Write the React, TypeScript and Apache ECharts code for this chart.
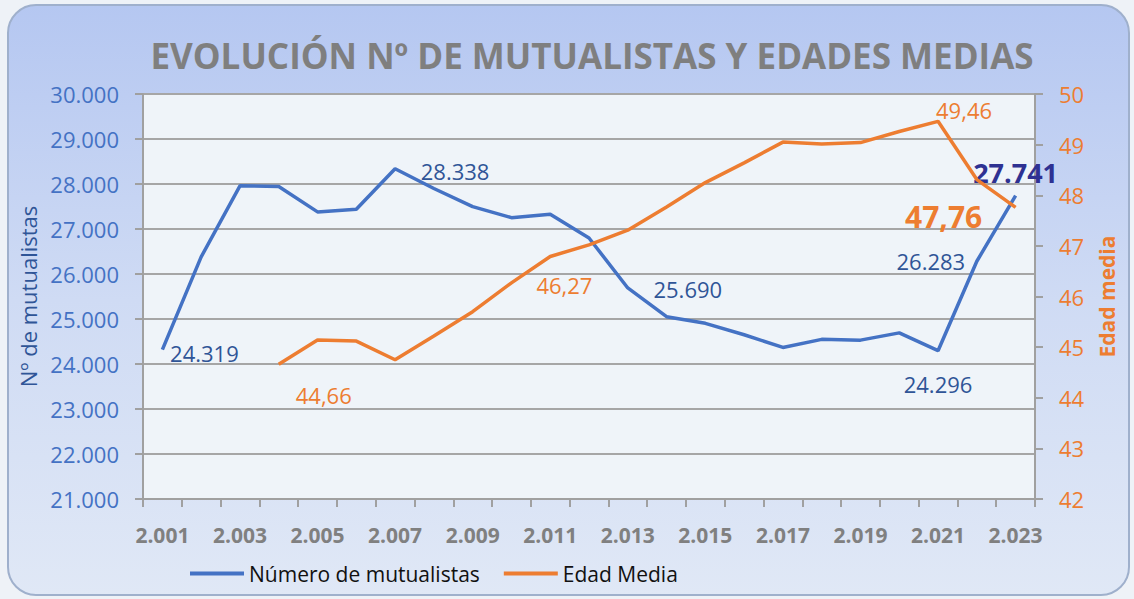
import { useEffect, useRef } from "react";
import * as echarts from "echarts";

const years = [
  "2.001", "2.002", "2.003", "2.004", "2.005", "2.006", "2.007", "2.008",
  "2.009", "2.010", "2.011", "2.012", "2.013", "2.014", "2.015", "2.016",
  "2.017", "2.018", "2.019", "2.020", "2.021", "2.022", "2.023",
];
const mutualistas = [
  24319, 26380, 27960, 27945, 27380, 27440, 28338, 27900, 27496, 27252, 27326,
  26800, 25690, 25052, 24904, 24650, 24368, 24548, 24530, 24692, 24296, 26283, 27741,
];
const edadMedia: (number | null)[] = [
  null, null, null, 44.66, 45.14, 45.12, 44.75, 45.22, 45.7, 46.27, 46.79,
  47.02, 47.31, 47.77, 48.25, 48.64, 49.05, 49.01, 49.04, 49.26, 49.46, 48.31, 47.76,
];
const leftTicks = { min: 21000, max: 30000, interval: 1000 };
const rightTicks = { min: 42, max: 50, interval: 1 };

const TITLE = "EVOLUCIÓN Nº DE MUTUALISTAS Y EDADES MEDIAS";
const FONT = "'Open Sans', sans-serif";
const BLUE = "#4472c4";
const ORANGE = "#ed7d31";
const DARKBLUE = "#2f5597";

const fmtThousands = (v: number) => {
  const s = Math.round(v).toString();
  return s.replace(/\B(?=(\d{3})+(?!\d))/g, ".");
};
const fmtDecimal = (v: number) => v.toFixed(2).replace(".", ",");

// label placements (index -> offset / style)
const blueLabels: Record<number, any> = {
  0: { offset: [42, 3] },
  6: { offset: [60, 2] },
  12: { offset: [60, 1] },
  20: { offset: [0, 33] },
  21: { offset: [-46, 0] },
  22: { offset: [0, -23], fontWeight: "bold", fontSize: 27, lineHeight: 22, color: "#2e3192" },
};
const orangeLabels: Record<number, any> = {
  3: { offset: [45, 31] },
  9: { offset: [53, 2] },
  20: { offset: [26, -11] },
  22: { offset: [-72, 9], fontWeight: "bold", fontSize: 30 },
};

export default function App() {
  const ref = useRef<HTMLDivElement>(null);
  useEffect(() => {
    if (!ref.current) return;
    const chart = echarts.init(ref.current, undefined, { renderer: "svg" });

    const blueData = mutualistas.map((v, i) => {
      const l = blueLabels[i];
      if (!l) return v;
      return {
        value: v,
        label: {
          show: true,
          position: "inside",
          align: "center",
          verticalAlign: "middle",
          color: DARKBLUE,
          fontSize: 22,
          fontFamily: FONT,
          formatter: () => fmtThousands(v),
          ...l,
        },
      };
    });
    const orangeData = edadMedia.map((v, i) => {
      if (v === null) return "-";
      const l = orangeLabels[i];
      if (!l) return v;
      return {
        value: v,
        label: {
          show: true,
          position: "inside",
          align: "center",
          verticalAlign: "middle",
          color: ORANGE,
          fontSize: 22,
          fontFamily: FONT,
          formatter: () => fmtDecimal(v),
          ...l,
        },
      };
    });

    chart.setOption({
      animation: false,
      backgroundColor: "#eef2f7",
      textStyle: { fontFamily: FONT },
      graphic: [
        {
          type: "rect",
          z: -10,
          shape: { x: 8, y: 5, width: 1121, height: 590, r: 28 },
          style: {
            fill: new echarts.graphic.LinearGradient(0, 0, 0, 1, [
              { offset: 0, color: "#b5c7f1" },
              { offset: 0.5, color: "#cfdbf4" },
              { offset: 1, color: "#e0e8f6" },
            ]),
            stroke: "#9fb0cc",
            lineWidth: 2,
          },
        },
        {
          type: "text",
          x: 592,
          y: 55,
          style: {
            text: TITLE,
            fill: "#7f7f7f",
            font: `bold 35px ${FONT}`,
            align: "center",
            verticalAlign: "middle",
          },
        },
      ],
      grid: {
        left: 143,
        right: 99,
        top: 94,
        bottom: 100,
        show: true,
        backgroundColor: "#eff4f9",
        borderWidth: 0,
      },
      legend: {
        left: 185,
        top: 558,
        icon: "rect",
        itemWidth: 54,
        itemHeight: 4,
        itemGap: 24,
        textStyle: { fontSize: 21, color: "#111", fontFamily: FONT },
        data: ["Número de mutualistas", "Edad Media"],
      },
      xAxis: {
        type: "category",
        data: years,
        boundaryGap: true,
        axisLine: { lineStyle: { color: "#a0a0a0", width: 2 } },
        axisTick: { show: true, interval: 0, length: 8, lineStyle: { color: "#a0a0a0", width: 2 } },
        axisLabel: {
          interval: 1,
          margin: 25,
          fontSize: 21,
          fontWeight: "bold",
          color: "#808080",
          fontFamily: FONT,
        },
        splitLine: { show: false },
      },
      yAxis: [
        {
          type: "value",
          min: leftTicks.min,
          max: leftTicks.max,
          interval: leftTicks.interval,
          name: "Nº de mutualistas",
          nameLocation: "middle",
          nameGap: 100,
          nameTextStyle: { color: DARKBLUE, fontSize: 22, fontFamily: FONT },
          axisLine: { show: true, lineStyle: { color: "#a0a0a0", width: 2 } },
          axisTick: { show: true, length: 8, lineStyle: { color: "#a0a0a0", width: 2 } },
          axisLabel: {
            margin: 24,
            fontSize: 22,
            color: BLUE,
            fontFamily: FONT,
            formatter: (v: number) => fmtThousands(v),
          },
          splitLine: { show: true, lineStyle: { color: "#a6a6a6", width: 2 } },
        },
        {
          type: "value",
          min: rightTicks.min,
          max: rightTicks.max,
          interval: rightTicks.interval,
          position: "right",
          name: "Edad media",
          nameLocation: "middle",
          nameGap: 61,
          nameTextStyle: { color: ORANGE, fontSize: 21, fontWeight: "bold", fontFamily: FONT },
          axisLine: { show: true, lineStyle: { color: "#a0a0a0", width: 2 } },
          axisTick: { show: true, length: 8, lineStyle: { color: "#a0a0a0", width: 2 } },
          axisLabel: { margin: 24, fontSize: 22, lineHeight: 20, color: ORANGE, fontFamily: FONT },
          splitLine: { show: false },
        },
      ],
      series: [
        {
          name: "Número de mutualistas",
          type: "line",
          yAxisIndex: 0,
          data: blueData,
          symbol: "circle",
          symbolSize: 0.1,
          showAllSymbol: true,
          lineStyle: { color: BLUE, width: 3.5 },
          itemStyle: { color: BLUE },
          z: 3,
        },
        {
          name: "Edad Media",
          type: "line",
          yAxisIndex: 1,
          data: orangeData,
          symbol: "circle",
          symbolSize: 0.1,
          showAllSymbol: true,
          lineStyle: { color: ORANGE, width: 3.5 },
          itemStyle: { color: ORANGE },
          z: 4,
        },
      ],
    });
    return () => chart.dispose();
  }, []);

  return (
    <div style={{ position: "fixed", left: 0, top: 0, width: 1134, height: 599, background: "#eef2f7" }}>
      <div ref={ref} style={{ width: 1134, height: 599 }} />
    </div>
  );
}
